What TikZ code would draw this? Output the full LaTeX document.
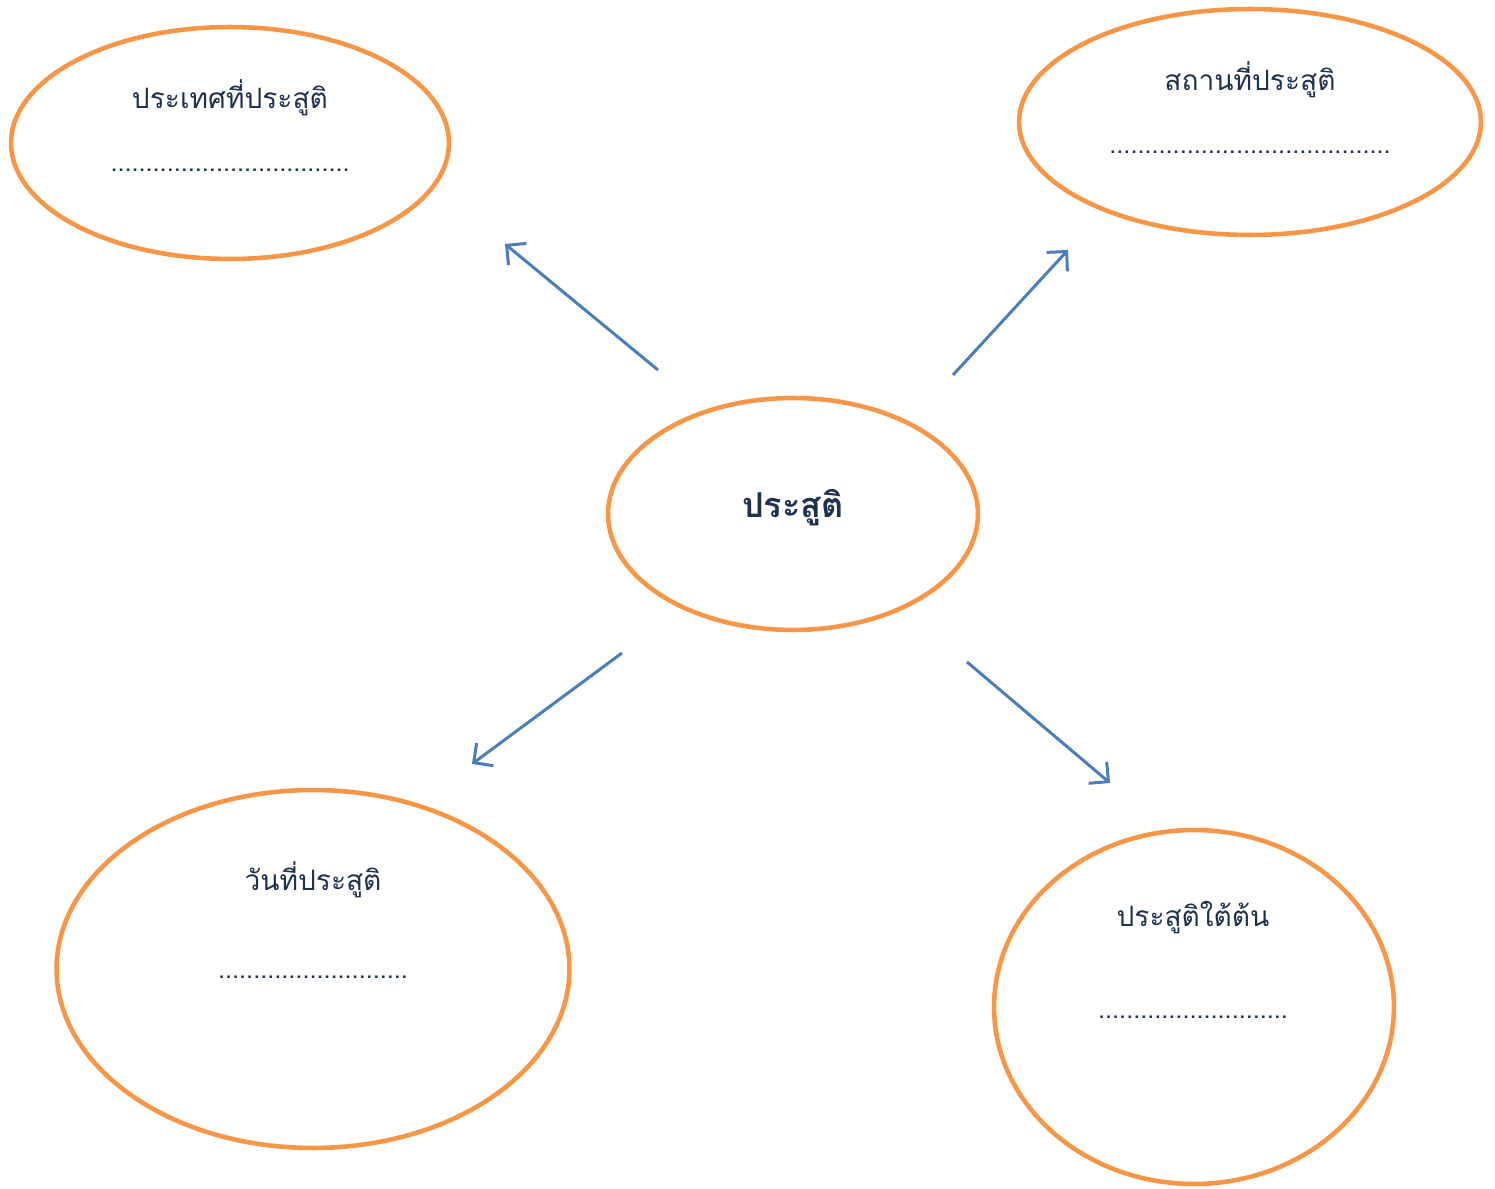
\documentclass[tikz,border=0pt]{standalone}
\usepackage{fontspec}
\newfontfamily\thaifont[Script=Thai]{Loma}
\usetikzlibrary{shapes.geometric,arrows.meta}
\definecolor{ora}{HTML}{F79646}
\definecolor{arr}{HTML}{4A7EBB}
\definecolor{txt}{HTML}{1F3250}
\begin{document}
\begin{tikzpicture}[x=0.02cm,y=-0.02cm,
  ell/.style={draw=ora,line width=2.6pt,ellipse,inner sep=0pt},
  lbl/.style={text=txt,font=\thaifont\fontsize{16}{19}\selectfont,inner sep=0pt},
  dotline/.style={text=txt,font=\thaifont\fontsize{14.4}{17}\selectfont,inner sep=0pt},
  conn/.style={draw=arr,line width=1.7pt,-{Straight Barb[length=8pt,width=16pt,line width=1.7pt]}}]
\useasboundingbox (0,0) rectangle (1495,1189);
% ellipses
\node[ell,minimum width=8.76cm,minimum height=4.64cm] (tl) at (230,143) {};
\node[ell,minimum width=9.24cm,minimum height=4.52cm] (tr) at (1250,122) {};
\node[ell,minimum width=7.4cm,minimum height=4.64cm] (c) at (793,514) {};
\node[ell,minimum width=10.26cm,minimum height=7.16cm] (bl) at (313,969) {};
\node[ell,minimum width=8.0cm,minimum height=7.08cm] (br) at (1194,1007) {};
% texts
\node[lbl] (tlt) at (230,98) {ประเทศที่ประสูติ};
\node[dotline] (tld) at (230,170) {..................................};
\node[lbl] (trt) at (1250,80) {สถานที่ประสูติ};
\node[dotline] (trd) at (1250,152) {........................................};
\node[lbl,font=\thaifont\bfseries\fontsize{19.5}{23}\selectfont] (ct) at (793,508) {ประสูติ};
\node[lbl] (blt) at (313,880) {วันที่ประสูติ};
\node[dotline] (bld) at (313,977) {...........................};
\node[lbl] (brt) at (1193,918) {ประสูติใต้ต้น};
\node[dotline] (brd) at (1193,1017) {...........................};
% arrows
\coordinate (a1s) at (658,370); \coordinate (a1e) at (505,244);
\coordinate (a2s) at (953,375); \coordinate (a2e) at (1068,250);
\coordinate (a3s) at (622,653); \coordinate (a3e) at (472,764);
\coordinate (a4s) at (967,662); \coordinate (a4e) at (1110,783);
\draw[conn] (a1s) -- (a1e);
\draw[conn] (a2s) -- (a2e);
\draw[conn] (a3s) -- (a3e);
\draw[conn] (a4s) -- (a4e);
\end{tikzpicture}
\end{document}
